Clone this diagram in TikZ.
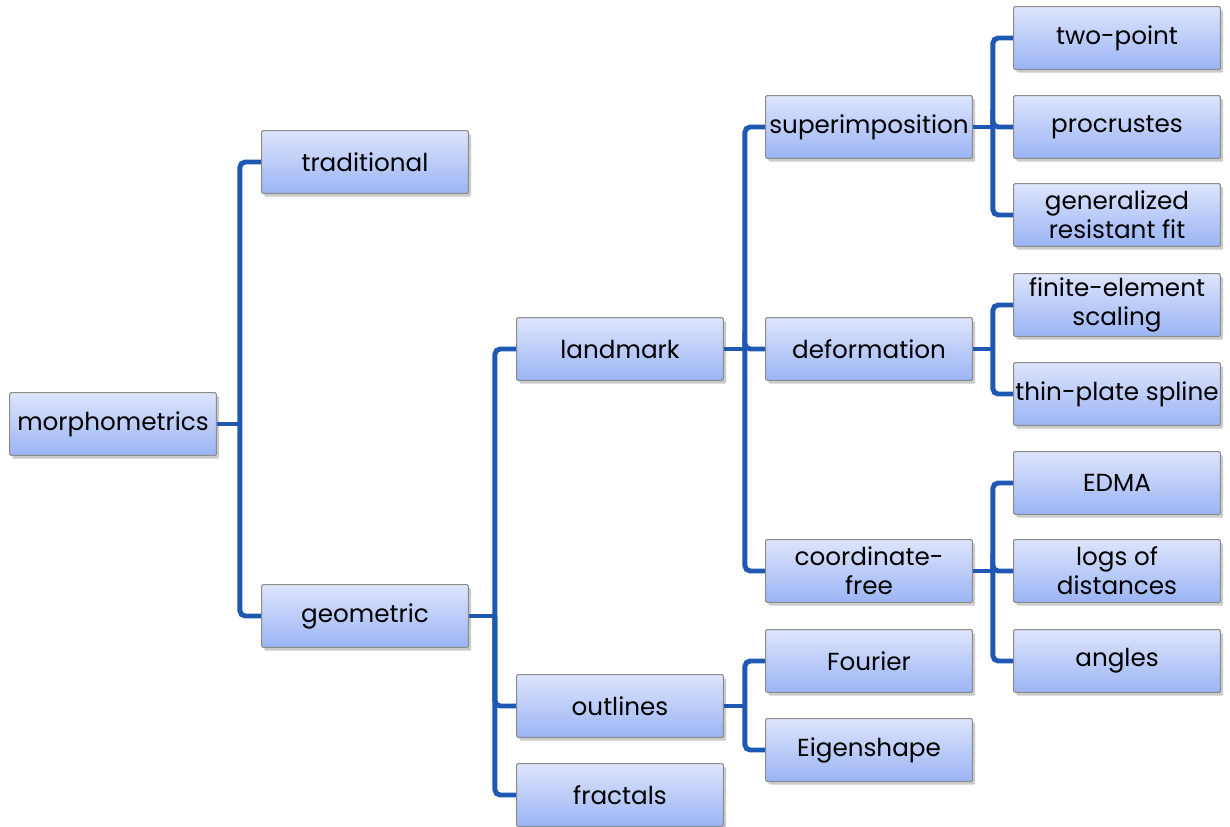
\documentclass[tikz,border=0pt]{standalone}
\usepackage{fontspec}
\setmainfont{Poppins}
\usetikzlibrary{shadows}
\definecolor{linkblue}{RGB}{31,88,178}
\definecolor{boxtop}{RGB}{222,229,252}
\definecolor{boxbot}{RGB}{154,180,244}
\definecolor{boxedge}{RGB}{140,140,140}
\tikzset{
  box/.style={draw=boxedge, line width=0.8pt, rounded corners=1pt,
    top color=boxtop, bottom color=boxbot,
    minimum width=155pt, minimum height=47pt, inner sep=0.5pt,
    align=center, font=\fontsize{18.5}{22}\selectfont,
    drop shadow={shadow xshift=2pt, shadow yshift=-2.5pt, opacity=0.35, fill=black!60}},
  link/.style={draw=linkblue, line width=3.7pt},
  elbow/.style={link, rounded corners=4pt},
}
\begin{document}
\begin{tikzpicture}[x=0.75pt, y=-0.75pt]
\useasboundingbox (0,0) rectangle (1230,827);
% root
\node[box] (morph) at (113,424) {morphometrics};
% first level
\node[box] (trad) at (365,162) {traditional};
\node[box] (geom) at (365,616) {geometric};
% second level
\node[box] (land) at (620,349) {landmark};
\node[box] (outl) at (620,706) {outlines};
\node[box] (frac) at (620,795) {fractals};
% third level
\node[box] (super) at (869,127) {superimposition};
\node[box] (deform) at (869,349) {deformation};
\node[box] (cfree) at (869,571) {coordinate-\\free};
\node[box] (four) at (869,661) {Fourier};
\node[box] (eigen) at (869,750) {Eigenshape};
% leaves
\node[box] (twop) at (1117,38) {two-point};
\node[box] (procr) at (1117,127) {procrustes};
\node[box] (grf) at (1117,215) {generalized\\resistant fit};
\node[box] (fes) at (1117,305) {finite-element\\scaling};
\node[box] (tps) at (1117,394) {thin-plate spline};
\node[box] (edma) at (1117,483) {EDMA};
\node[box] (logs) at (1117,571) {logs of\\distances};
\node[box] (ang) at (1117,661) {angles};
% elbow connectors: straight stub from the parent to its bus,
% then a rounded elbow from the bus into each child
\foreach \p/\c/\d in {morph/trad/23, morph/geom/23,
    geom/land/26, geom/outl/26, geom/frac/26,
    land/super/21, land/deform/21, land/cfree/21,
    outl/four/21, outl/eigen/21,
    super/twop/20, super/procr/20, super/grf/20,
    deform/fes/20, deform/tps/20,
    cfree/edma/20, cfree/logs/20, cfree/ang/20}
{
  \draw[link] (\p.east) -- ++(\d,0) coordinate (bus-\p-\c);
  \draw[elbow] (bus-\p-\c) |- (\c.west);
}
\end{tikzpicture}
\end{document}
